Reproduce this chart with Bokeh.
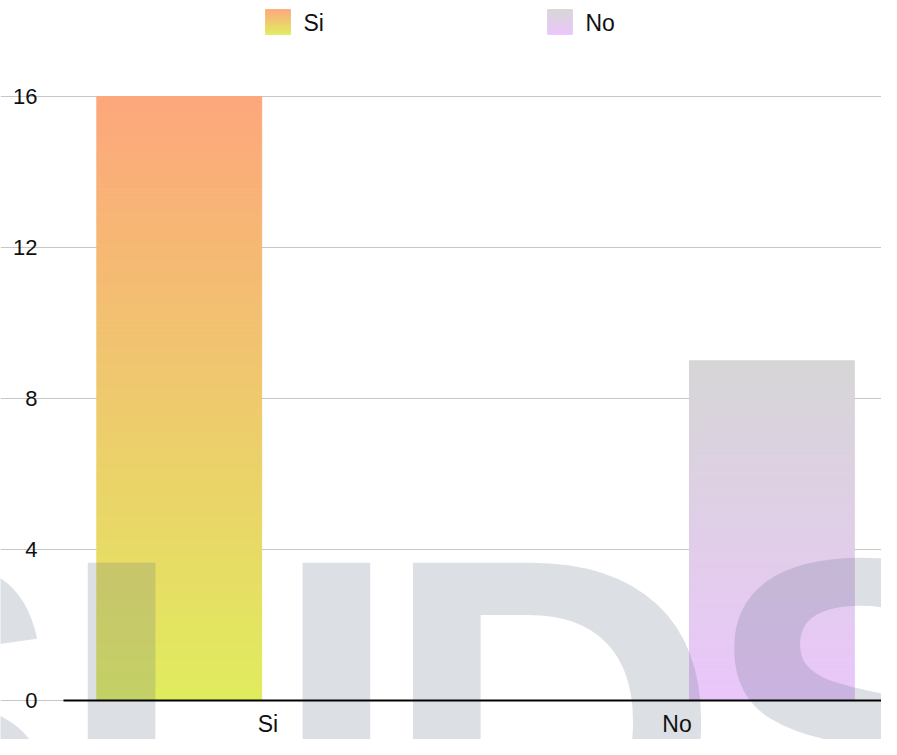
from bokeh.plotting import figure
from bokeh.models import ColumnDataSource, Range1d, FixedTicker
from bokeh.embed import file_html
from bokeh.resources import INLINE
from bokeh.core.properties import value

# ---- data ----
categories = ["Si", "No"]
series_names = ["Si", "No"]
si_values = [16, 0]
no_values = [0, 9]
y_ticks = [0, 4, 8, 12, 16]

# ---- style / layout ----
SI_TOP, SI_BOTTOM = (253, 167, 124), (224, 236, 94)
NO_TOP, NO_BOTTOM = (214, 214, 214), (234, 198, 250)
FONT = "Liberation Sans"
N = 120
W, H = 881, 739
FL, FT, FB = 63, 96, 700          # plotting area left / top(16) / bottom(0) in canvas px
YMAX = max(y_ticks)
ppx = (W - FL) / len(categories)
ppy = (FB - FT) / YMAX


def mix(c1, c2, t):
    return "#%02x%02x%02x" % tuple(int(round(a + (b - a) * t)) for a, b in zip(c1, c2))


cat_pos = [i + 0.5 for i in range(len(categories))]
p = figure(width=W, height=H,
           x_range=Range1d(-FL / ppx, len(categories)),
           y_range=Range1d(-(H - FB) / ppy, YMAX + FT / ppy),
           output_backend="svg", toolbar_location=None, min_border=0)
p.outline_line_color = None
p.background_fill_color = "white"
p.xgrid.visible = False
p.ygrid.grid_line_color = "#c6c6c6"
p.ygrid.grid_line_width = 1
p.ygrid.bounds = (0, len(categories))

p.yaxis.fixed_location = 0
p.yaxis.ticker = FixedTicker(ticks=y_ticks, minor_ticks=[])
p.yaxis.axis_line_color = None
p.yaxis.major_tick_line_color = None
p.yaxis.minor_tick_line_color = None
p.yaxis.major_tick_out = 0
p.yaxis.major_tick_in = 0
p.yaxis.minor_tick_out = 0
p.yaxis.major_label_standoff = 26
p.yaxis.major_label_text_font = FONT
p.yaxis.major_label_text_font_size = "22px"
p.yaxis.major_label_text_color = "#111111"

p.xaxis.fixed_location = 0
p.xaxis.bounds = (0, len(categories))
p.xaxis.ticker = FixedTicker(ticks=cat_pos, minor_ticks=[])
p.xaxis.major_label_overrides = {pos: c for pos, c in zip(cat_pos, categories)}
p.xaxis.axis_line_color = "black"
p.xaxis.axis_line_width = 2
p.xaxis.major_tick_line_color = None
p.xaxis.minor_tick_line_color = None
p.xaxis.major_tick_out = 0
p.xaxis.major_tick_in = 0
p.xaxis.minor_tick_out = 0
p.xaxis.major_label_standoff = 10
p.xaxis.major_label_text_font = FONT
p.xaxis.major_label_text_font_size = "23px"
p.xaxis.major_label_text_color = "#111111"

# pixel-space ranges for legend and watermark
p.extra_x_ranges = {"px": Range1d(0, W)}
p.extra_y_ranges = {"py": Range1d(H, 0)}


def bar_source(vals, top_c, bot_c, offset):
    xs, bottoms, tops, colors = [], [], [], []
    for pos, v in zip(cat_pos, vals):
        if v <= 0:
            continue
        for i in range(N):
            xs.append(pos + offset)
            bottoms.append(v * i / N)
            tops.append(v * (i + 1) / N)
            colors.append(mix(bot_c, top_c, (i + 0.5) / N))
    return ColumnDataSource(dict(x=xs, bottom=bottoms, top=tops, color=colors))


src_si = bar_source(si_values, SI_TOP, SI_BOTTOM, -0.217)
src_no = bar_source(no_values, NO_TOP, NO_BOTTOM, 0.232)
for src in (src_si, src_no):
    p.vbar(x="x", width=0.403, bottom="bottom", top="top",
           fill_color="color", line_color="color", line_width=1, source=src)

# ---- background watermark (drawn translucent over the bars) ----
p.text(x=[-250, 59, 381, 705], y=[723, 723, 723, 723], text=["S", "U", "D", "S"],
       x_range_name="px", y_range_name="py",
       text_font=value(FONT), text_font_style="bold", text_font_size=value("470px"),
       text_color="#5a6e82", text_alpha=0.21, text_baseline="alphabetic",
       text_align="left")

# ---- legend ----
legend_pos = {"Si": 265, "No": 547}
legend_cols = {"Si": (SI_TOP, SI_BOTTOM), "No": (NO_TOP, NO_BOTTOM)}
SW, SY = 25, 9
for name in series_names:
    x0 = legend_pos[name]
    top_c, bot_c = legend_cols[name]
    lefts, rights, tops, bottoms, cols = [], [], [], [], []
    for i in range(SW):
        lefts.append(x0)
        rights.append(x0 + SW)
        tops.append(SY + i)
        bottoms.append(SY + i + 1)
        cols.append(mix(top_c, bot_c, (i + 0.5) / SW))
    p.quad(left=lefts, right=rights, top=tops, bottom=bottoms,
           fill_color=cols, line_color=cols, line_width=0.8,
           x_range_name="px", y_range_name="py")
    p.text(x=[x0 + 38], y=[SY + 13], text=[name], text_baseline="middle",
           text_align="left", text_font=value(FONT), text_font_size=value("23px"),
           text_color="#111111", x_range_name="px", y_range_name="py")

open("out.html", "w").write(file_html(p, INLINE))
